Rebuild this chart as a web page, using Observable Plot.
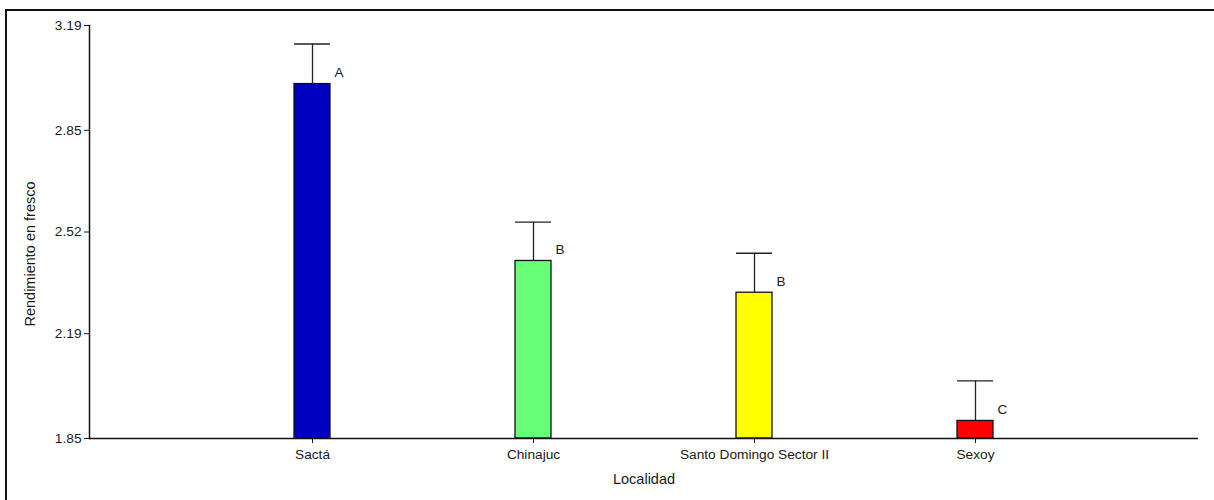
<!DOCTYPE html>
<html>
<head>
<meta charset="utf-8">
<script src="https://cdn.jsdelivr.net/npm/d3@7"></script>
<script src="https://cdn.jsdelivr.net/npm/@observablehq/plot@0.6"></script>
<style>
  html, body { margin: 0; padding: 0; background: #fff; }
  #wrap { position: relative; width: 1214px; height: 500px; overflow: hidden; }
  #frame { position: absolute; left: 5px; top: 9px; width: 1220px; height: 500px;
           border-left: 2px solid #111; border-top: 2px solid #111; box-sizing: border-box; pointer-events: none; }
  svg { font-family: "Liberation Sans", Arial, sans-serif; }
</style>
</head>
<body>
<div id="wrap"><div id="frame"></div></div>
<script>
const localidades = ["Sactá", "Chinajuc", "Santo Domingo Sector II", "Sexoy"];
const medias = [3.00, 2.426, 2.323, 1.907];
const superiores = [3.13, 2.552, 2.451, 2.037];
const letras = ["A", "B", "B", "C"];
const colores = ["#0000C0", "#66FF77", "#FFFF00", "#FF0000"];
const yTicks = [1.85, 2.19, 2.52, 2.85, 3.19];
const yMin = 1.85, yMax = 3.19;
const xTitle = "Localidad";
const yTitle = "Rendimiento en fresco";

const data = localidades.map((loc, i) => ({
  loc, mean: medias[i], upper: superiores[i], letter: letras[i], color: colores[i], base: yMin
}));

const chart = Plot.plot({
  width: 1214,
  height: 500,
  marginLeft: 89,
  marginRight: 16,
  marginTop: 25,
  marginBottom: 62,
  style: { fontFamily: "'Liberation Sans', Arial, sans-serif", fontSize: "13.7px", color: "#1a1a1a", background: "transparent" },
  x: { type: "band", domain: localidades, paddingInner: 0.838, paddingOuter: 0.919 },
  y: { domain: [yMin, yMax] },
  marks: [
    Plot.barY(data, { x: "loc", y1: "base", y2: "mean", fill: "color", stroke: "#111", strokeWidth: 1.3 }),
    Plot.ruleX(data, { x: "loc", y1: "mean", y2: "upper", stroke: "#222", strokeWidth: 1.3 }),
    Plot.tickY(data, { x: "loc", y: "upper", stroke: "#222", strokeWidth: 1.3 }),
    Plot.text(data, { x: "loc", y: "mean", text: "letter", dx: 22, dy: -11, textAnchor: "start", fontSize: 13.5, fill: "#1a1a1a" }),
    Plot.axisY({ ticks: yTicks, tickFormat: d3.format(".2f"), tickSize: 5, tickPadding: 3, label: null, fontSize: 13.7 }),
    Plot.axisX({ tickSize: 5, tickPadding: 6, label: null, fontSize: 13.7 }),
    Plot.text([xTitle], { text: d => d, frameAnchor: "bottom", dy: 45, fontSize: 14.5, fill: "#1a1a1a" }),
    Plot.text([yTitle], { text: d => d, frameAnchor: "left", textAnchor: "middle", dx: -59, dy: 22, rotate: -90, fontSize: 14.5, fill: "#1a1a1a" }),
    Plot.frame({ anchor: "left", stroke: "#111", strokeWidth: 1.5 }),
    Plot.ruleY([yMin], { stroke: "#111", strokeWidth: 1.5 })
  ]
});
document.getElementById("wrap").insertBefore(chart, document.getElementById("frame"));
</script>
</body>
</html>
